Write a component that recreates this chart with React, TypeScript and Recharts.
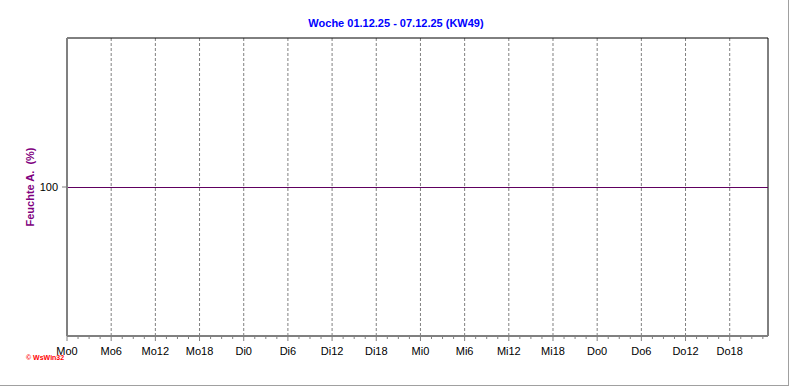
import React from 'react';
import { LineChart, Line, XAxis, YAxis, ReferenceLine, Label } from 'recharts';

const title = 'Woche 01.12.25 - 07.12.25 (KW49)';
const yLabel = 'Feuchte A.\u00a0 (%)';
const logoText = '\u00a9 WsWin32';

const majorHours = [0, 6, 12, 18, 24, 30, 36, 42, 48, 54, 60, 66, 72, 78, 84, 90];
const majorLabels = ['Mo0', 'Mo6', 'Mo12', 'Mo18', 'Di0', 'Di6', 'Di12', 'Di18', 'Mi0', 'Mi6', 'Mi12', 'Mi18', 'Do0', 'Do6', 'Do12', 'Do18'];
const minorStep = 1.5;
const xMax = 95.2;

const yDomain = [0, 200];
const yTicks = [100];

const hours = [0, 6, 12, 18, 24, 30, 36, 42, 48, 54, 60, 66, 72, 78, 84, 90, 95.2];
const humidity = [100, 100, 100, 100, 100, 100, 100, 100, 100, 100, 100, 100, 100, 100, 100, 100, 100];

const data = hours.map((h, i) => ({ h, v: humidity[i] }));

const allTicks: number[] = [];
for (let t = 0; t < xMax; t += minorStep) allTicks.push(Math.round(t * 10) / 10);

const FONT = '"Liberation Sans", Arial, sans-serif';
const GRAY = '#808080';
const PURPLE = '#800080';
const LINE_PURPLE = '#600060';

const XTick = (props: any) => {
  const { x, y, payload } = props;
  const idx = majorHours.indexOf(payload.value);
  const isMajor = idx >= 0;
  return (
    <g>
      <line x1={x} x2={x} y1={y} y2={y + (isMajor ? 5 : 3)} stroke={GRAY} strokeWidth={1} />
      {isMajor && (
        <text x={x} y={y + 19} textAnchor="middle" fontSize={11} fontFamily={FONT} fill="#000">
          {majorLabels[idx]}
        </text>
      )}
    </g>
  );
};

export default function App() {
  return (
    <div style={{ position: 'absolute', left: 0, top: 0, width: 792, height: 387, background: '#fff' }}>
      <div
        style={{
          position: 'absolute',
          left: 0,
          top: 16,
          width: 792,
          textAlign: 'center',
          fontFamily: FONT,
          fontWeight: 'bold',
          fontSize: 11,
          color: '#0000ff',
          lineHeight: '14px',
        }}
      >
        {title}
      </div>
      <LineChart width={792} height={387} data={data} margin={{ top: 38, right: 24, bottom: 0, left: 0 }}>
        <XAxis
          dataKey="h"
          type="number"
          domain={[0, xMax]}
          allowDataOverflow
          ticks={allTicks}
          interval={0}
          tick={<XTick />}
          tickLine={false}
          tickSize={0}
          tickMargin={0}
          height={51}
          axisLine={{ stroke: GRAY, strokeWidth: 2 }}
        />
        <YAxis
          type="number"
          domain={yDomain}
          ticks={yTicks}
          width={67}
          allowDataOverflow
          tick={{ fontSize: 11, fontFamily: FONT, fill: '#000' }}
          tickLine={{ stroke: GRAY }}
          tickSize={5}
          tickMargin={4}
          axisLine={{ stroke: GRAY, strokeWidth: 2 }}
        >
          <Label
            value={yLabel}
            angle={-90}
            position="center"
            dx={-3}
            style={{ fontSize: 11, fontFamily: FONT, fontWeight: 'bold', fill: PURPLE }}
          />
        </YAxis>
        {majorHours.map((h) => (
          <ReferenceLine key={h} x={h} stroke={GRAY} strokeDasharray="3 2" />
        ))}
        <ReferenceLine y={yDomain[1]} stroke="#000" strokeWidth={1} />
        <ReferenceLine x={xMax} stroke="#000" strokeWidth={1} />
        <Line
          dataKey="v"
          stroke={LINE_PURPLE}
          strokeWidth={1}
          dot={false}
          isAnimationActive={false}
          shapeRendering="crispEdges"
        />
      </LineChart>
      <div
        style={{
          position: 'absolute',
          left: 26,
          top: 353,
          fontFamily: FONT,
          fontWeight: 'bold',
          fontSize: 7,
          color: '#ff0000',
          lineHeight: '9px',
          whiteSpace: 'nowrap',
        }}
      >
        {logoText}
      </div>
      <div
        style={{
          position: 'absolute',
          left: 0,
          top: 0,
          width: 788,
          height: 385,
          borderRight: '1px solid #a0a0a0',
          borderBottom: '1px solid #a0a0a0',
          pointerEvents: 'none',
        }}
      />
    </div>
  );
}
